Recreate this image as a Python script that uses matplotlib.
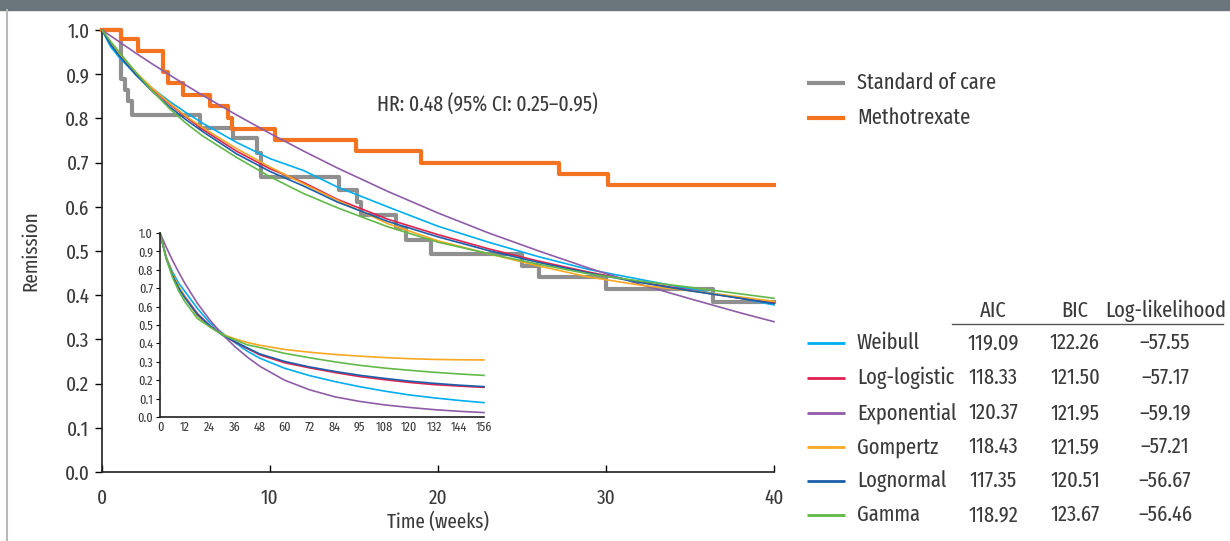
import matplotlib
matplotlib.use("Agg")
import matplotlib.pyplot as plt
from matplotlib import font_manager
from matplotlib.lines import Line2D
from matplotlib.patches import Rectangle

# ---------------- data ----------------
# Kaplan-Meier step curves (time in weeks, remission proportion)
soc_t = [0, 1.15, 1.35, 1.55, 1.8, 5.85, 7.8, 9.2, 9.45, 14.1, 15.15, 15.4,
         17.5, 18.1, 19.6, 25.0, 26.0, 30.0, 36.35, 40]
soc_s = [1.0, 0.89, 0.865, 0.84, 0.808, 0.778, 0.755, 0.721, 0.668, 0.638, 0.61,
         0.581, 0.551, 0.524, 0.494, 0.466, 0.441, 0.413, 0.384, 0.384]
mtx_t = [0, 1.15, 2.15, 3.65, 3.95, 4.83, 6.42, 7.52, 7.72, 10.3, 15.1, 19.0,
         27.2, 30.1, 40]
mtx_s = [1.0, 0.98, 0.953, 0.905, 0.879, 0.854, 0.829, 0.80, 0.776, 0.752, 0.727,
         0.70, 0.675, 0.649, 0.649]

# fitted parametric curves, main panel (read at these weeks)
fit_t = [0, 0.5, 1, 2, 3, 4, 5, 6, 8, 10, 12, 14, 17, 20, 23, 26, 29, 32, 35, 38, 40]
weibull = [1.0, 0.963, 0.939, 0.90, 0.868, 0.839, 0.813, 0.789, 0.746, 0.709, 0.682,
           0.645, 0.600, 0.556, 0.520, 0.487, 0.458, 0.436, 0.414, 0.393, 0.378]
loglogistic = [1.0, 0.970, 0.946, 0.903, 0.866, 0.833, 0.803, 0.775, 0.726, 0.686,
               0.655, 0.617, 0.572, 0.537, 0.505, 0.477, 0.452, 0.430, 0.411, 0.393, 0.382]
exponential = [1.0, 0.987, 0.974, 0.948, 0.923, 0.899, 0.875, 0.852, 0.808, 0.766,
               0.726, 0.688, 0.635, 0.586, 0.541, 0.500, 0.461, 0.425, 0.392, 0.360, 0.340]
gompertz = [1.0, 0.972, 0.947, 0.905, 0.868, 0.835, 0.805, 0.779, 0.732, 0.690,
            0.652, 0.615, 0.562, 0.523, 0.494, 0.466, 0.441, 0.423, 0.410, 0.396, 0.386]
lognormal = [1.0, 0.968, 0.943, 0.899, 0.861, 0.827, 0.797, 0.770, 0.720, 0.680,
             0.647, 0.611, 0.567, 0.532, 0.501, 0.474, 0.450, 0.429, 0.410, 0.393, 0.381]
gamma = [1.0, 0.975, 0.951, 0.905, 0.862, 0.823, 0.789, 0.760, 0.712, 0.668,
         0.630, 0.598, 0.555, 0.520, 0.494, 0.470, 0.448, 0.432, 0.418, 0.403, 0.393]

# inset (extrapolation to 156 weeks)
ins_t = [0, 3, 6, 9, 12, 18, 24, 30, 36, 42, 48, 60, 72, 84, 96, 108, 120, 132, 144, 156]
ins_weibull = [1.0, 0.868, 0.789, 0.727, 0.682, 0.590, 0.512, 0.456, 0.405, 0.358, 0.320,
               0.265, 0.225, 0.193, 0.165, 0.141, 0.120, 0.104, 0.090, 0.078]
ins_loglogistic = [1.0, 0.866, 0.775, 0.705, 0.655, 0.562, 0.497, 0.447, 0.408, 0.372,
                   0.338, 0.295, 0.267, 0.242, 0.220, 0.203, 0.188, 0.176, 0.168, 0.161]
ins_exponential = [1.0, 0.923, 0.852, 0.787, 0.726, 0.618, 0.527, 0.449, 0.383, 0.326,
                   0.276, 0.200, 0.148, 0.110, 0.085, 0.066, 0.052, 0.040, 0.031, 0.024]
ins_gompertz = [1.0, 0.868, 0.779, 0.710, 0.652, 0.550, 0.490, 0.450, 0.425, 0.405,
                0.390, 0.367, 0.352, 0.340, 0.331, 0.323, 0.317, 0.313, 0.311, 0.310]
ins_lognormal = [1.0, 0.861, 0.770, 0.700, 0.647, 0.557, 0.495, 0.446, 0.410, 0.376,
                 0.343, 0.302, 0.272, 0.248, 0.227, 0.210, 0.195, 0.183, 0.173, 0.165]
ins_gamma = [1.0, 0.862, 0.760, 0.685, 0.627, 0.535, 0.490, 0.447, 0.420, 0.392,
             0.378, 0.346, 0.322, 0.300, 0.281, 0.266, 0.254, 0.243, 0.234, 0.226]

ins_xticks = [0, 12, 24, 36, 48, 60, 72, 84, 96, 108, 120, 132, 144, 156]
ins_xlabels = ["0", "12", "24", "36", "48", "60", "72", "84", "95", "108", "120",
               "132", "144", "156"]

model_names = ["Weibull", "Log-logistic", "Exponential", "Gompertz", "Lognormal", "Gamma"]
aic = ["119.09", "118.33", "120.37", "118.43", "117.35", "118.92"]
bic = ["122.26", "121.50", "121.95", "121.59", "120.51", "123.67"]
loglik = ["\u201357.55", "\u201357.17", "\u201359.19", "\u201357.21", "\u201356.67", "\u201356.46"]
hr_text = "HR: 0.48 (95% CI: 0.25\u20130.95)"

# ---------------- style ----------------
available = {f.name for f in font_manager.fontManager.ttflist}
fam = "Liberation Sans"
for cand in ["Fira Sans Extra Condensed", "Fira Sans Condensed", "IBM Plex Sans Condensed",
             "Barlow Semi Condensed", "Archivo Narrow", "Liberation Sans Narrow"]:
    if cand in available:
        fam = cand
        break
plt.rcParams["font.family"] = [fam, "DejaVu Sans"]
plt.rcParams["font.weight"] = "normal"
txt = "#3a3a3a"

c_soc = "#8f8f8f"
c_mtx = "#f47321"
model_colors = ["#00aeef", "#e0204e", "#8f5ca8", "#f8a822", "#1b5faa", "#62b948"]
main_series = [weibull, loglogistic, exponential, gompertz, lognormal, gamma]
ins_series = [ins_weibull, ins_loglogistic, ins_exponential, ins_gompertz, ins_lognormal, ins_gamma]

W, H = 1230, 541
fig = plt.figure(figsize=(W / 100, H / 100), dpi=100)

def fx(px):
    return px / W

def fy(py):
    return 1 - py / H

# header bar and left border
fig.patches.append(Rectangle((0, fy(10)), 1, 10 / H, transform=fig.transFigure,
                             color="#6a767b", zorder=0))
fig.lines.append(Line2D([fx(7), fx(7)], [0, fy(10)], transform=fig.transFigure,
                        color="#b9b9b9", lw=1.5))

# ---------------- main axes ----------------
ax = fig.add_axes([fx(102), fy(472), fx(774) - fx(102), fy(30) - fy(472)])
ax.set_xlim(0, 40)
ax.set_ylim(0, 1.0)
for s in ["top", "right"]:
    ax.spines[s].set_visible(False)
for s in ["left", "bottom"]:
    ax.spines[s].set_linewidth(1.2)
    ax.spines[s].set_color("#231f20")
ax.set_xticks([0, 10, 20, 30, 40])
ax.set_yticks([i / 10 for i in range(11)])
ax.set_yticklabels([f"{i / 10:.1f}" for i in range(11)])
ax.tick_params(axis="x", direction="in", length=5, width=1, labelsize=15,
               labelcolor=txt, pad=12)
ax.tick_params(axis="y", direction="out", length=5, width=1, labelsize=15,
               labelcolor=txt, pad=4)
ax.set_xlabel("Time (weeks)", fontsize=15, color=txt, labelpad=3)
ax.set_ylabel("Remission", fontsize=15, color=txt, labelpad=17)

for ys, col in zip(main_series, model_colors):
    ax.plot(fit_t, ys, color=col, lw=1.2, zorder=3, clip_on=False)
ax.step(soc_t, soc_s, where="post", color=c_soc, lw=3.0, zorder=2, clip_on=False)
ax.step(mtx_t, mtx_s, where="post", color=c_mtx, lw=3.0, zorder=2, clip_on=False)

fig.text(fx(377), fy(105), hr_text, fontsize=15.5, color=txt, va="center", ha="left")

# ---------------- inset ----------------
ai = fig.add_axes([fx(160), fy(417), fx(484) - fx(160), fy(233) - fy(417)])
ai.set_xlim(0, 156)
ai.set_ylim(0, 1.0)
ai.patch.set_alpha(0)
for s in ["top", "right"]:
    ai.spines[s].set_visible(False)
for s in ["left", "bottom"]:
    ai.spines[s].set_linewidth(1.2)
    ai.spines[s].set_color("#231f20")
ai.set_xticks(ins_xticks)
ai.set_xticklabels(ins_xlabels)
ai.set_yticks([i / 10 for i in range(11)])
ai.set_yticklabels([f"{i / 10:.1f}" for i in range(11)])
ai.tick_params(axis="x", length=0, labelsize=9.5, labelcolor=txt, pad=3)
ai.tick_params(axis="y", direction="out", length=3, width=0.8, labelsize=9.5,
               labelcolor=txt, pad=2)
for ys, col in zip(ins_series, model_colors):
    ai.plot(ins_t, ys, color=col, lw=1.2, clip_on=False)

# ---------------- legend / table ----------------
def sample(y, col, lw):
    fig.lines.append(Line2D([fx(807), fx(845)], [fy(y), fy(y)], transform=fig.transFigure,
                            color=col, lw=lw, solid_capstyle="butt"))

fs = 16
sample(83, c_soc, 3.0)
fig.text(fx(857), fy(83), "Standard of care", fontsize=fs, color=txt, va="center")
sample(118, c_mtx, 3.0)
fig.text(fx(857), fy(118), "Methotrexate", fontsize=fs, color=txt, va="center")

fig.text(fx(993), fy(311), "AIC", fontsize=fs, color=txt, va="center", ha="center")
fig.text(fx(1075), fy(311), "BIC", fontsize=fs, color=txt, va="center", ha="center")
fig.text(fx(1166), fy(311), "Log-likelihood", fontsize=fs, color=txt, va="center", ha="center")
fig.lines.append(Line2D([fx(952), fx(1223)], [fy(324), fy(324)], transform=fig.transFigure,
                        color="#555555", lw=1.0))

row_y = [343, 378, 413, 447, 481, 515]
for y, name, col, a, b, ll in zip(row_y, model_names, model_colors, aic, bic, loglik):
    sample(y, col, 2.0)
    fig.text(fx(857), fy(y), name, fontsize=fs, color=txt, va="center")
    fig.text(fx(993), fy(y), a, fontsize=fs, color=txt, va="center", ha="center")
    fig.text(fx(1075), fy(y), b, fontsize=fs, color=txt, va="center", ha="center")
    fig.text(fx(1165), fy(y), ll, fontsize=fs, color=txt, va="center", ha="center")

fig.savefig("out.png", dpi=100)
